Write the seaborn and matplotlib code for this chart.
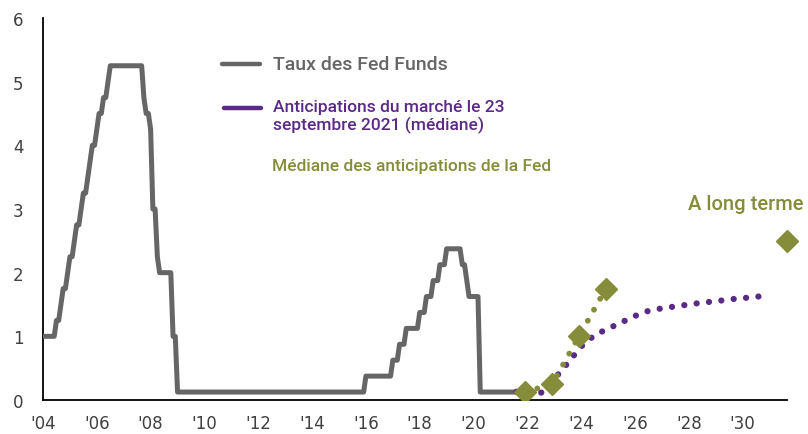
import numpy as np
import pandas as pd
import matplotlib
matplotlib.use("Agg")
import matplotlib.pyplot as plt
from matplotlib.lines import Line2D
import seaborn as sns

# -------------------------
# Data
# -------------------------
# Fed funds target (midpoint of range after Dec 2008), change dates
ff_dates = ["2004-01-01", "2004-06-30", "2004-08-10", "2004-09-21", "2004-11-10",
            "2004-12-14", "2005-02-02", "2005-03-22", "2005-05-03", "2005-06-30",
            "2005-08-09", "2005-09-20", "2005-11-01", "2005-12-13", "2006-01-31",
            "2006-03-28", "2006-05-10", "2006-06-29", "2007-09-18", "2007-10-31",
            "2007-12-11", "2008-01-22", "2008-01-30", "2008-03-18", "2008-04-30",
            "2008-10-08", "2008-10-29", "2008-12-16", "2015-12-16", "2016-12-14",
            "2017-03-15", "2017-06-14", "2017-12-13", "2018-03-21", "2018-06-13",
            "2018-09-26", "2018-12-19", "2019-07-31", "2019-09-18", "2019-10-30",
            "2020-03-03", "2020-03-15", "2021-09-01"]
ff_rates = [1.00, 1.25, 1.50, 1.75, 2.00,
            2.25, 2.50, 2.75, 3.00, 3.25,
            3.50, 3.75, 4.00, 4.25, 4.50,
            4.75, 5.00, 5.25, 4.75, 4.50,
            4.25, 3.50, 3.00, 2.25, 2.00,
            1.50, 1.00, 0.125, 0.375, 0.625,
            0.875, 1.125, 1.375, 1.625, 1.875,
            2.125, 2.375, 2.125, 1.875, 1.625,
            1.125, 0.125, 0.125]

# Market expectations as of 23 Sept 2021 (median)
mkt_x = [2021.6, 2022.0, 2022.5, 2022.75, 2023.0, 2023.5, 2024.0, 2024.5, 2025.0,
         2025.5, 2026.0, 2026.5, 2027.0, 2027.5, 2028.0, 2028.5, 2029.0, 2029.5,
         2030.0, 2030.5, 2031.0]
mkt_y = [0.13, 0.11, 0.11, 0.20, 0.33, 0.58, 0.84, 1.02, 1.12,
         1.22, 1.32, 1.40, 1.44, 1.47, 1.50, 1.53, 1.55, 1.58,
         1.60, 1.62, 1.65]

# FOMC median projections (year-end) and longer run
fed_x = [2021.92, 2022.92, 2023.92, 2024.92]
fed_y = [0.125, 0.25, 1.00, 1.75]
longrun_x = [2031.65]
longrun_y = [2.50]

xticks = list(range(2004, 2031, 2))
xlabels = ["'" + str(y)[2:] for y in xticks]

GRAY = "#666666"
PURPLE = "#5B2A86"
GREEN = "#858C3A"

# daily target rate -> value at start of each month, x in decimal years
daily = pd.Series(ff_rates, index=pd.to_datetime(ff_dates)).resample("D").ffill()
monthly = daily.resample("MS").first()
ff = pd.DataFrame({"x": monthly.index.year + (monthly.index.month - 1) / 12,
                   "y": monthly.values})
mkt = pd.DataFrame({"x": mkt_x, "y": mkt_y})
fed = pd.DataFrame({"x": fed_x, "y": fed_y})

# -------------------------
# Plot
# -------------------------
sns.set_style("white")
plt.rcParams["font.family"] = ["DejaVu Sans"]

fig = plt.figure(figsize=(8.08, 4.35), dpi=100)
ax = fig.add_axes([43 / 808, 34 / 435, 744 / 808, 382 / 435])

sns.lineplot(data=ff, x="x", y="y", ax=ax, color=GRAY, lw=3.6,
             estimator=None, zorder=3)
sns.lineplot(data=mkt, x="x", y="y", ax=ax, color=PURPLE, lw=4.5,
             linestyle=(0, (0.01, 1.98)), dash_capstyle="round",
             estimator=None, zorder=4)
sns.lineplot(data=fed, x="x", y="y", ax=ax, color=GREEN, lw=4.2,
             linestyle=(0, (0.01, 2.15)), dash_capstyle="round",
             estimator=None, zorder=5)
ax.plot(fed_x, fed_y, "D", color=GREEN, ms=11.5, mec=GREEN, zorder=6)
ax.plot(longrun_x, longrun_y, "D", color=GREEN, ms=11.5, mec=GREEN,
        zorder=6, clip_on=False)

ax.set_xlim(2004, 2031.65)
ax.set_ylim(0, 6)
ax.set_xticks(xticks)
ax.set_xticklabels(xlabels)
ax.set_yticks(range(0, 7))
ax.set_xlabel("")
ax.set_ylabel("")
for s in ["top", "right"]:
    ax.spines[s].set_visible(False)
for s in ["left", "bottom"]:
    ax.spines[s].set_color("black")
    ax.spines[s].set_linewidth(1.3)
ax.tick_params(axis="both", direction="out", width=1.3, color="black",
               labelsize=12, labelcolor="#404040")
ax.tick_params(axis="y", length=5, pad=9)
ax.tick_params(axis="x", length=4, pad=6)
ax.grid(False)

# legend drawn as free text
lab_font = dict(family=["Roboto", "DejaVu Sans"], fontweight="medium")
fig.add_artist(Line2D([222 / 808, 260 / 808], [1 - 65 / 435] * 2, color=GRAY, lw=3.2))
fig.add_artist(Line2D([224 / 808, 261 / 808], [1 - 109 / 435] * 2, color=PURPLE, lw=3.2))
fig.text(273 / 808, 1 - 65 / 435, "Taux des Fed Funds", color=GRAY, va="center",
         fontsize=14, **lab_font)
fig.text(273 / 808, 1 - 117 / 435, "Anticipations du marché le 23\nseptembre 2021 (médiane)",
         color=PURPLE, va="center", linespacing=1.2, fontsize=12.5, **lab_font)
fig.text(272 / 808, 1 - 166 / 435, "Médiane des anticipations de la Fed",
         color=GREEN, va="center", fontsize=12.5, **lab_font)
fig.text(803 / 808, 1 - 205 / 435, "A long terme", color=GREEN, va="center",
         ha="right", fontsize=14.5, **lab_font)

fig.savefig("out.png", dpi=100)
